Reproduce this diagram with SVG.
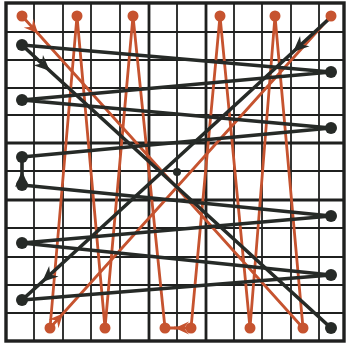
<svg xmlns="http://www.w3.org/2000/svg" width="346" height="351" viewBox="0 0 346 351">
<style>
.g{stroke:#1f201f;stroke-width:1.8;fill:none}
.gt{stroke:#1f201f;stroke-width:2.8;fill:none}
.gb{stroke:#1f201f;stroke-width:3.4;fill:none}
.k{stroke:#262a27;stroke-width:3.6;fill:none;stroke-linejoin:round;stroke-linecap:round}
.o{stroke:#c6532f;stroke-width:2.8;fill:none;stroke-linejoin:round;stroke-linecap:round}
.kd{fill:#262a27}
.od{fill:#c6532f}
</style>
<defs>
<marker id="ak" markerUnits="userSpaceOnUse" markerWidth="24" markerHeight="20" refX="8" refY="0" viewBox="-10 -10 24 20" orient="auto" overflow="visible">
<path d="M-8,-7 L8,0 L-8,7 L-3,0 z" fill="#262a27"/>
</marker>
<marker id="ao" markerUnits="userSpaceOnUse" markerWidth="24" markerHeight="20" refX="7" refY="0" viewBox="-10 -10 24 20" orient="auto" overflow="visible">
<path d="M-7,-6.5 L7,0 L-7,6.5 L-2,0 z" fill="#c6532f"/>
</marker>
</defs>
<rect width="346" height="351" fill="#ffffff"/>
<g id="grid">
<path class="g" d="M34,3V341M63,3V341M91,3V341M120,3V341M177,3V341M234,3V341M262,3V341M291,3V341M319,3V341"/>
<path class="g" d="M6,32H344M6,60H344M6,88H344M6,115H344M6,171H344M6,228H344M6,257H344M6,285H344M6,313H344"/>
<path class="gt" d="M149,3V341M206,3V341M6,143H344M6,200H344"/>
<rect class="gb" x="6" y="3" width="338" height="338"/>
</g>
<g id="connectors">
<g id="orange-path">
<path class="o" d="M38,33.5L303,328L275,16L250,328L220,16L191,328"/>
<path class="o" d="M22,16L38,33.5" marker-end="url(#ao)"/>
<path class="o" d="M191,328L175,328" marker-end="url(#ao)"/>
<path class="o" d="M175,328L165,328L133,16L105,328L77,16L50,328"/>
<path class="o" d="M50,328L63,313.5L331,16" marker-mid="url(#ao)"/>
</g>
<g id="black-path">
<path class="k" d="M331,17L293,52L42,282L22,300" marker-mid="url(#ak)"/>
<path class="k" d="M22,300L331,275L22,243L331,216L22,185"/>
<path class="k" d="M22,185L22,171L22,157" marker-mid="url(#ak)"/>
<path class="k" d="M22,157L331,128L22,100L331,72L22,45"/>
<path class="k" d="M22,45L50,71L331,328" marker-mid="url(#ak)"/>
</g>
</g>
<g id="orange-top-1"><circle class="od" cx="22" cy="16" r="5.5"/></g>
<g id="orange-top-2"><circle class="od" cx="77" cy="16" r="5.5"/></g>
<g id="orange-top-3"><circle class="od" cx="133" cy="16" r="5.5"/></g>
<g id="orange-top-4"><circle class="od" cx="220" cy="16" r="5.5"/></g>
<g id="orange-top-5"><circle class="od" cx="275" cy="16" r="5.5"/></g>
<g id="orange-top-6"><circle class="od" cx="331" cy="16" r="5.5"/></g>
<g id="orange-bottom-1"><circle class="od" cx="50" cy="328" r="5.5"/></g>
<g id="orange-bottom-2"><circle class="od" cx="105" cy="328" r="5.5"/></g>
<g id="orange-bottom-3"><circle class="od" cx="165" cy="328" r="5.5"/></g>
<g id="orange-bottom-4"><circle class="od" cx="191" cy="328" r="5.5"/></g>
<g id="orange-bottom-5"><circle class="od" cx="250" cy="328" r="5.5"/></g>
<g id="orange-bottom-6"><circle class="od" cx="303" cy="328" r="5.5"/></g>
<g id="black-left-1"><circle class="kd" cx="22" cy="45" r="6"/></g>
<g id="black-left-2"><circle class="kd" cx="22" cy="100" r="6"/></g>
<g id="black-left-3"><circle class="kd" cx="22" cy="157" r="6"/></g>
<g id="black-left-4"><circle class="kd" cx="22" cy="185" r="6"/></g>
<g id="black-left-5"><circle class="kd" cx="22" cy="243" r="6"/></g>
<g id="black-left-6"><circle class="kd" cx="22" cy="300" r="6"/></g>
<g id="black-right-1"><circle class="kd" cx="331" cy="72" r="6"/></g>
<g id="black-right-2"><circle class="kd" cx="331" cy="128" r="6"/></g>
<g id="black-right-3"><circle class="kd" cx="331" cy="216" r="6"/></g>
<g id="black-right-4"><circle class="kd" cx="331" cy="275" r="6"/></g>
<g id="black-right-5"><circle class="kd" cx="331" cy="328" r="6"/></g>
<g id="center"><circle class="kd" cx="177" cy="172" r="4"/></g>
</svg>
